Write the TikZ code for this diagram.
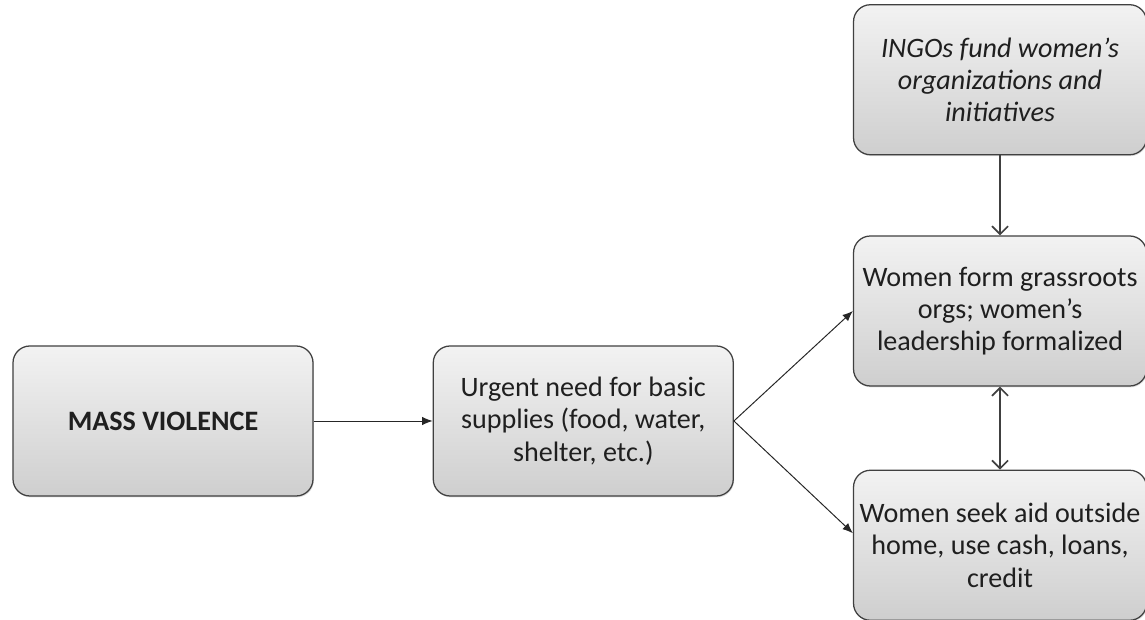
\documentclass[tikz,border=0pt]{standalone}
\usepackage{fontspec}
\setmainfont{Carlito}
\usetikzlibrary{arrows.meta,positioning,shadows}

\begin{document}
\begin{tikzpicture}[
  box/.style={draw=black!75, line width=0.9pt, rounded corners=12pt, align=center,
              top color=gray!10, bottom color=gray!38, text=black!88,
              font=\fontsize{20}{23}\selectfont,
              drop shadow={opacity=0.25, shadow xshift=0.6pt, shadow yshift=-1pt},
              minimum height=3.75cm, minimum width=7.5cm, inner xsep=0pt},
  rbox/.style={box, minimum width=7.325cm},
  arr/.style={-{Latex[length=2.6mm, width=2.1mm]}, line width=0.7pt, black!85},
  varr/.style={-{Straight Barb[length=2mm, width=4mm]}, line width=1.2pt, black!75},
  darr/.style={{Straight Barb[length=2mm, width=4mm]}-{Straight Barb[length=2mm, width=4mm]},
               line width=1.2pt, black!75}]
  \useasboundingbox (0,0) rectangle (28.625,15.5);
  \node[box] (viol) at (4.075,4.975) {\textbf{MASS VIOLENCE}};
  \node[box, right=2.975cm of viol] (need) {Urgent need for basic\\ supplies (food, water,\\ shelter, etc.)};
  \node[rbox, right=2.975cm of need, yshift=2.75cm] (orgs) {Women form grassroots\\ orgs; women’s\\ leadership formalized};
  \node[rbox, above=2cm of orgs] (ingo) {\itshape INGOs fund women’s\\ \itshape organizations and\\ \itshape initiatives};
  \node[rbox, below=2.075cm of orgs] (aid) {Women seek aid outside\\ home, use cash, loans,\\ credit};
  \draw[arr] (viol) -- (need);
  \draw[arr] (need.east) -- (orgs.west);
  \draw[arr] (need.east) -- ([yshift=0.3cm]aid.west);
  \draw[varr] (ingo) -- (orgs);
  \draw[darr] (orgs) -- (aid);
\end{tikzpicture}
\end{document}
